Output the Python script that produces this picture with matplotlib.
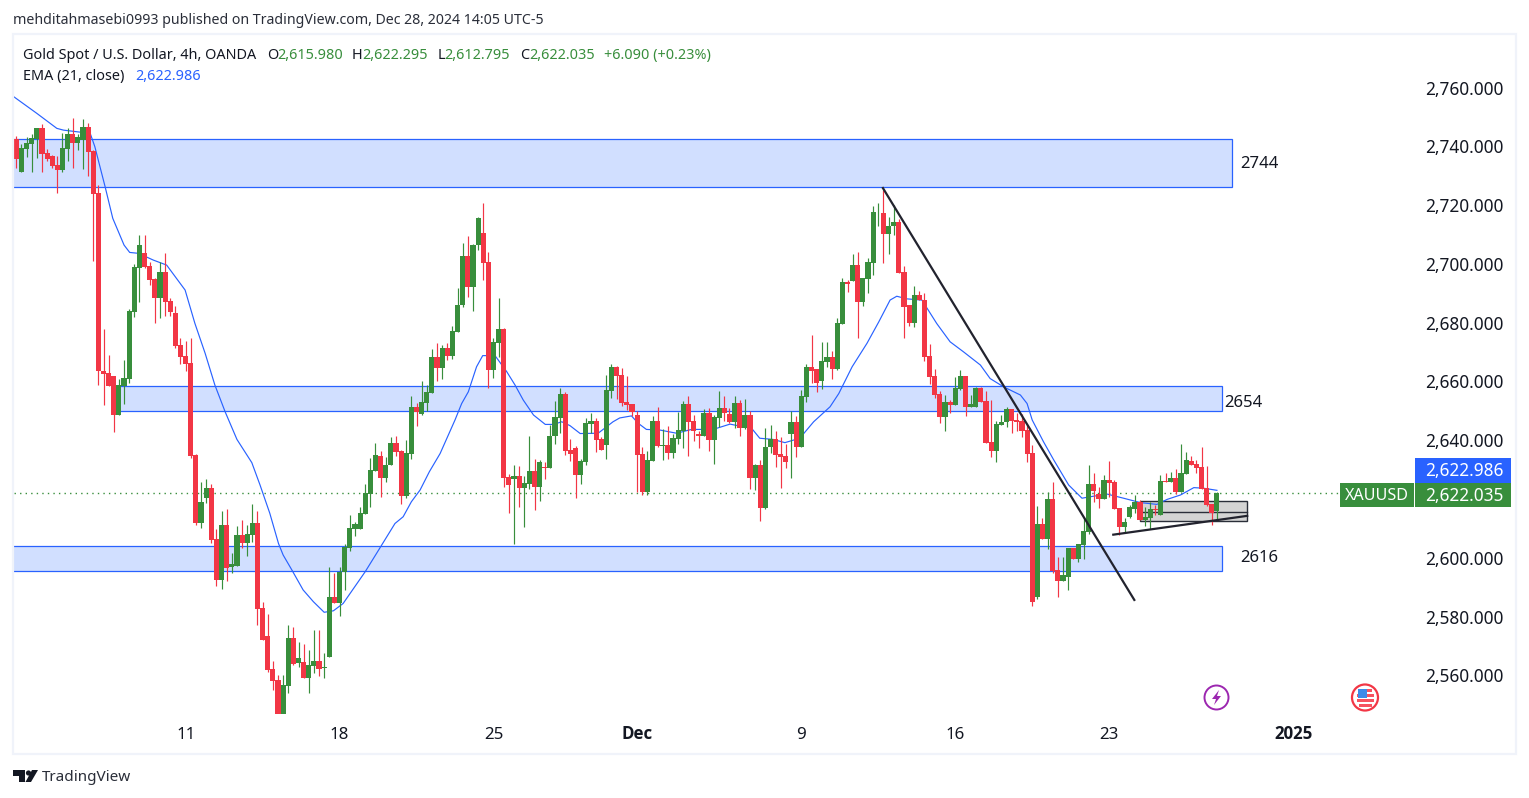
import matplotlib
matplotlib.use("Agg")
import numpy as np
import matplotlib.pyplot as plt
from matplotlib.patches import Rectangle, Circle, Polygon

plt.rcParams['font.family'] = ['Noto Sans', 'DejaVu Sans']

# candles, oldest first
opens = [2742.5,2731.4,2739.2,2740.9,2742.6,2746.2,2737.6,2736.7,2733.6,2732.1,2739.1,2744.2,2741.2,2742.1,2746.6,2738.4,2724.1,2663.6,2662.9,2661.9,
         2648.6,2658.6,2660.9,2683.6,2698.7,2703.7,2699.3,2694.9,2688.4,2697.2,2687.4,2683.3,2672.4,2668.7,2666.3,2635.0,2611.9,2620.4,2623.8,2606.4,
         2592.5,2611.2,2596.9,2597.2,2607.8,2605.1,2607.8,2611.9,2583.0,2573.4,2562.2,2558.5,2546.9,2556.4,2572.7,2564.2,2564.6,2559.1,2563.2,2564.9,
         2562.6,2566.3,2586.7,2584.6,2595.2,2603.4,2609.8,2609.8,2614.9,2621.7,2629.7,2634.6,2627.2,2631.6,2639.1,2636.3,2621.0,2635.3,2651.3,2649.0,
         2652.7,2656.1,2668.3,2664.6,2671.4,2668.7,2676.8,2686.0,2702.7,2692.1,2706.4,2710.5,2700.6,2663.9,2673.1,2677.9,2627.5,2626.8,2627.9,2623.8,
         2625.1,2629.6,2624.1,2630.9,2630.6,2641.5,2647.6,2655.7,2636.7,2637.4,2628.2,2632.6,2645.5,2646.6,2640.4,2638.4,2656.8,2664.9,2662.2,2653.0,
         2652.3,2648.6,2635.3,2622.4,2633.0,2646.6,2638.1,2638.4,2635.7,2640.4,2643.2,2652.3,2646.6,2642.1,2641.5,2649.3,2640.1,2647.6,2651.0,2648.9,
         2646.2,2652.7,2644.2,2648.6,2627.2,2631.6,2617.0,2637.7,2640.4,2635.3,2634.7,2642.1,2646.2,2637.7,2654.7,2664.9,2664.2,2660.2,2666.6,2668.3,
         2664.3,2679.6,2693.8,2694.2,2699.6,2687.0,2694.9,2700.3,2717.7,2717.3,2710.2,2712.9,2714.3,2697.2,2686.0,2679.9,2689.4,2687.7,2668.7,2661.9,
         2655.7,2647.9,2653.0,2652.0,2657.4,2661.9,2651.3,2651.3,2657.8,2653.4,2639.4,2636.4,2645.2,2646.2,2650.6,2646.9,2646.6,2643.5,2635.7,2586.7,
         2611.5,2606.4,2620.0,2595.9,2592.1,2593.5,2603.4,2599.6,2604.4,2608.8,2625.1,2621.7,2620.0,2626.5,2625.8,2617.0,2610.5,2613.9,2616.6,2619.0,
         2612.9,2613.6,2616.7,2614.6,2626.1,2625.8,2627.2,2622.4,2628.5,2633.0,2631.9,2630.9,2623.8,2618.3,2615.98]
highs = [2743.5,2740.8,2743.2,2744.2,2746.2,2747.6,2739.0,2737.0,2736.7,2744.5,2746.2,2749.6,2744.2,2749.3,2747.9,2738.7,2726.8,2677.9,2669.0,2661.9,
         2660.9,2667.3,2684.7,2700.0,2709.8,2709.8,2700.6,2695.2,2700.6,2703.7,2688.4,2685.7,2674.8,2673.8,2674.8,2635.3,2625.8,2626.8,2625.1,2609.8,
         2615.9,2616.6,2601.7,2610.8,2612.9,2611.2,2618.3,2615.9,2585.0,2580.9,2564.9,2560.2,2560.2,2577.2,2576.5,2571.4,2570.7,2568.7,2575.5,2575.5,
         2567.6,2596.9,2594.9,2596.9,2604.7,2614.6,2612.2,2617.3,2625.1,2634.0,2639.1,2636.3,2634.3,2641.1,2641.4,2636.7,2640.1,2655.1,2652.7,2660.2,
         2658.8,2671.1,2673.1,2672.4,2673.1,2678.9,2691.8,2707.1,2709.5,2706.8,2716.0,2720.7,2704.0,2674.8,2688.4,2678.2,2628.5,2631.6,2631.3,2627.9,
         2641.5,2633.6,2633.3,2632.6,2645.2,2653.4,2657.8,2656.4,2640.4,2638.1,2633.6,2647.6,2649.3,2647.6,2641.1,2662.2,2665.9,2665.3,2664.6,2661.9,
         2652.3,2650.0,2637.7,2636.4,2648.3,2651.3,2643.8,2644.9,2642.1,2649.6,2653.4,2655.1,2648.6,2643.2,2650.6,2651.0,2648.6,2656.8,2655.1,2651.0,
         2655.1,2653.7,2654.0,2650.0,2631.9,2633.3,2644.2,2645.2,2643.2,2641.1,2638.7,2650.0,2648.3,2657.1,2665.9,2675.8,2664.2,2673.4,2673.4,2670.4,
         2681.6,2695.2,2694.5,2703.4,2704.0,2695.2,2702.0,2719.7,2720.7,2725.1,2716.0,2720.0,2715.3,2699.3,2686.0,2692.5,2690.8,2690.1,2672.8,2664.3,
         2656.8,2655.4,2653.7,2661.5,2663.9,2661.9,2655.4,2658.1,2658.1,2656.8,2653.7,2646.6,2648.6,2651.3,2650.6,2649.3,2648.9,2645.2,2638.4,2617.6,
         2613.6,2622.4,2625.8,2600.3,2600.3,2603.4,2603.4,2604.7,2613.9,2631.6,2628.9,2624.1,2628.2,2633.0,2626.5,2617.0,2613.6,2618.0,2621.4,2619.7,
         2617.3,2619.0,2618.0,2628.2,2628.9,2629.2,2630.2,2638.7,2636.0,2634.6,2633.3,2637.7,2631.2,2618.3,2622.295]
lows = [2732.6,2731.4,2736.5,2731.4,2736.0,2731.4,2735.1,2732.6,2724.2,2731.4,2735.1,2732.6,2738.7,2732.3,2729.9,2701.0,2658.8,2652.0,2658.5,2642.8,
        2648.6,2652.3,2659.5,2681.9,2687.0,2698.6,2692.8,2679.9,2681.6,2682.3,2682.3,2671.4,2666.0,2663.6,2634.0,2611.2,2610.2,2618.7,2605.1,2590.4,
        2589.4,2592.1,2594.9,2597.2,2603.4,2600.6,2605.4,2577.2,2572.1,2561.2,2555.1,2546.9,2546.9,2554.0,2563.6,2562.9,2559.1,2554.0,2560.8,2559.8,
        2559.1,2566.3,2584.6,2580.2,2589.1,2602.3,2607.4,2609.8,2614.9,2617.3,2629.7,2620.7,2625.8,2631.6,2634.6,2618.3,2620.4,2633.6,2644.9,2648.6,
        2650.0,2656.1,2660.2,2660.9,2667.3,2667.7,2676.8,2685.3,2688.7,2684.0,2704.7,2694.5,2657.8,2661.2,2668.3,2624.1,2615.3,2604.7,2617.3,2610.5,
        2623.4,2616.3,2619.4,2626.8,2630.6,2638.7,2642.5,2635.0,2633.0,2620.4,2625.1,2631.6,2642.5,2636.0,2636.7,2633.6,2654.4,2654.0,2651.7,2650.3,
        2648.3,2622.4,2621.4,2621.4,2633.0,2637.7,2633.3,2633.6,2634.0,2638.7,2637.4,2634.7,2639.8,2637.4,2641.5,2636.4,2631.9,2644.5,2646.6,2645.9,
        2644.2,2641.5,2643.8,2623.4,2623.1,2612.6,2616.6,2635.7,2630.9,2623.8,2630.6,2627.2,2634.3,2637.7,2653.0,2659.5,2656.4,2657.4,2664.9,2660.8,
        2663.9,2679.6,2690.4,2694.2,2674.8,2685.7,2690.1,2696.2,2712.9,2700.3,2703.4,2709.8,2696.9,2674.8,2678.9,2678.5,2687.7,2667.0,2659.1,2654.4,
        2645.9,2643.2,2649.3,2652.0,2657.1,2648.3,2651.3,2651.3,2653.0,2639.1,2634.3,2632.6,2645.2,2644.5,2642.5,2643.2,2641.1,2632.6,2583.6,2586.0,
        2606.4,2603.0,2594.9,2586.7,2592.1,2589.1,2599.6,2598.6,2599.6,2608.1,2619.0,2617.0,2620.0,2620.7,2616.6,2607.8,2608.8,2613.6,2615.3,2612.9,
        2610.8,2609.8,2614.6,2614.6,2625.8,2625.8,2621.7,2622.4,2628.5,2631.6,2628.9,2623.4,2617.6,2611.2,2612.795]
closes = [2735.8,2739.4,2741.1,2742.8,2746.2,2737.5,2735.7,2733.3,2732.1,2739.4,2744.2,2741.2,2743.2,2746.6,2738.2,2723.9,2663.6,2662.7,2658.5,2648.6,
          2658.8,2661.2,2684.0,2699.0,2706.4,2699.0,2694.5,2688.4,2697.2,2687.0,2683.6,2672.1,2668.3,2666.0,2634.6,2611.9,2619.0,2623.8,2606.1,2592.5,
          2611.2,2596.6,2597.9,2607.8,2605.1,2608.1,2611.9,2582.6,2572.1,2561.9,2558.1,2546.9,2556.8,2572.7,2563.9,2565.9,2559.1,2563.6,2564.9,2562.2,
          2562.9,2586.7,2584.6,2595.2,2603.7,2610.2,2611.5,2615.3,2622.1,2629.9,2635.0,2627.2,2631.6,2639.1,2636.0,2621.0,2635.7,2651.3,2649.6,2653.0,
          2656.4,2668.3,2664.6,2671.4,2668.7,2677.2,2686.0,2702.7,2692.1,2706.4,2715.6,2700.3,2663.9,2673.4,2677.9,2627.2,2624.8,2627.9,2623.8,2625.5,
          2629.6,2624.1,2632.6,2630.7,2641.5,2647.9,2655.7,2636.4,2635.3,2628.2,2633.0,2645.9,2646.6,2640.1,2636.7,2657.1,2664.9,2661.9,2652.7,2652.0,
          2649.6,2635.0,2622.4,2633.3,2646.6,2638.1,2638.4,2635.7,2640.8,2643.5,2652.3,2646.2,2643.2,2641.5,2649.3,2640.1,2647.9,2651.0,2649.3,2646.2,
          2652.7,2644.2,2648.6,2627.2,2631.6,2617.0,2637.7,2640.4,2635.0,2634.3,2632.6,2646.2,2637.7,2655.1,2664.9,2663.6,2659.5,2667.0,2668.3,2664.3,
          2679.9,2693.8,2693.2,2699.6,2687.0,2695.2,2700.6,2717.7,2717.7,2710.2,2712.9,2714.3,2696.9,2685.3,2679.9,2689.4,2687.7,2668.3,2661.5,2655.4,
          2647.9,2653.0,2652.0,2657.8,2661.9,2651.3,2652.3,2657.8,2653.0,2639.1,2636.4,2645.5,2646.2,2650.6,2646.6,2646.2,2643.2,2635.3,2585.0,2611.5,
          2606.4,2620.0,2595.5,2592.1,2594.2,2603.4,2599.6,2604.7,2609.1,2625.1,2622.7,2620.0,2626.5,2625.5,2616.6,2610.5,2612.2,2617.3,2619.0,2612.9,
          2613.9,2616.6,2616.4,2626.1,2625.8,2627.2,2622.4,2628.9,2633.3,2631.6,2630.6,2623.4,2618.0,2615.3,2622.035]

# EMA (21, close) read at a sample of candles
ema_at = [-1,4,7.9,9.2,14.4,15.3,17.3,18.8,21,22.1,23.8,26.7,29.3,32.9,34.8,36.8,38.7,40.7,43,45.9,47.5,49.4,51.1,52,53.7,55.9,57.9,60,61.8,63.7,68,70.2,73.8,75.4,77,78.7,
          80.5,82.6,85.5,86.8,88.1,89.7,90.9,93.3,95.6,97.2,98.8,100.8,103.1,104.7,106.3,107.9,109.9,113.4,116.3,117.6,119.9,121.2,122.8,125.4,128.7,131.6,135.8,139.1,141.7,143.3,
          144.9,147.5,149.8,152.7,155.4,158.6,160.3,162.9,165.8,168.1,170.3,171.6,173.6,176.5,179.4,182,184.6,187.9,189.8,192.4,195.7,197,198,200.2,202.2,205.1,207.7,209.3,212.6,
          215.8,219.1,222.3,224.3,226.9,229.5,231.4,234]
ema_val = [2757.5,2751.2,2746.1,2745.5,2744.4,2739.9,2726.3,2715.5,2706.4,2703.9,2703.6,2701.3,2699.6,2691.1,2679.8,2669.6,2658.8,2649.7,2640.3,2632.4,2624.8,2615.2,2604.9,2601.0,2595.9,2589.1,2585.1,2581.5,2582.0,2584.5,2595.3,2601.5,2611.7,2614.0,2619.1,2623.1,
           2629.3,2635.5,2646.9,2652.5,2656.5,2665.0,2668.8,2668.8,2663.3,2658.8,2653.7,2648.6,2645.4,2645.4,2646.3,2645.0,2642.3,2642.4,2646.3,2647.6,2648.3,2645.8,2643.7,2643.5,2642.4,2643.7,2643.7,2645.5,2644.6,2644.1,
           2640.7,2640.3,2639.2,2640.7,2646.3,2651.4,2655.9,2665.0,2673.0,2680.3,2687.7,2689.0,2688.1,2687.7,2679.7,2673.5,2670.1,2665.6,2661.0,2658.2,2655.4,2652.5,2646.9,2639.5,2633.3,2624.8,2620.3,2620.8,2621.7,
           2620.3,2618.8,2618.2,2619.9,2621.4,2623.9,2623.7,2622.986]

# 2,620 sits behind the last-price badge and is not shown
price_ticks = [2560,2580,2600,2640,2660,2680,2700,2720,2740,2760]
date_ticks = [33,63,93,121,153,183,213,249]
date_labels = ["11","18","25","Dec","9","16","23","2025"]

# zones: first candle, last candle, low, high
zone_left = [-1,19.2,-1]
zone_right = [237,235,235]
zone_low = [2726.3,2650.1,2595.7]
zone_high = [2742.5,2658.5,2604.2]

RED = "#F23645"
GREEN = "#388E3C"
BLUE = "#2962FF"
INK = "#131722"
W, H = 1529, 798

fig = plt.figure(figsize=(W/100, H/100), dpi=100, facecolor="white")
ax = fig.add_axes([14/W, 1-714/H, (1416-14)/W, (714-35)/H])
ax.set_xlim(-0.45, 272.8)
ax.set_ylim(2546.9, 2777.86)
for s in ax.spines.values():
    s.set_visible(False)

for l, r, lo, hi in zip(zone_left, zone_right, zone_low, zone_high):
    ax.add_patch(Rectangle((l, lo), r-l, hi-lo, fc="#D1DFFF", ec=BLUE, lw=0.9, zorder=1))

# grey consolidation box
ax.add_patch(Rectangle((219, 2612.5), 20.9, 6.85, fc="#D4D4D4", ec="#2A2E39", lw=1.0, zorder=1.2))
ax.plot([219, 239.9], [2615.7, 2615.7], color="#2A2E39", lw=1.0, zorder=1.3)

ax.axhline(closes[-1], xmax=(1340-14)/(1416-14), color=GREEN, lw=1, ls=(0, (1, 3)), zorder=1.5)
ax.plot(ema_at, ema_val, color=BLUE, lw=0.85, zorder=2)

idx = np.arange(len(opens))
o, h, l, c = map(np.array, (opens, highs, lows, closes))
up = c >= o
cols = np.where(up, GREEN, RED)
ax.vlines(idx, l, h, colors=cols, lw=0.85, zorder=3)
ax.bar(idx, np.abs(c-o), bottom=np.minimum(o, c), width=1.0, color=cols, lw=0, zorder=3.1)

# trend lines
ax.plot([168.9, 217.9], [2725.8, 2585.7], color="#22232E", lw=1.6, zorder=4)
ax.plot([213.8, 239.9], [2607.9, 2614.3], color="#22232E", lw=1.6, zorder=4)

ax.yaxis.tick_right()
ax.set_yticks(price_ticks)
ax.set_yticklabels([f"{v:,.3f}" for v in price_ticks], fontsize=12.4, color=INK)
ax.tick_params(axis="y", length=0, pad=6.5)
ax.set_xticks(date_ticks)
ax.set_xticklabels(date_labels, fontsize=12.2, color=INK)
ax.tick_params(axis="x", length=0, pad=9.5)
for tick, name in zip(ax.xaxis.get_major_ticks(), date_labels):
    if name in ("Dec", "2025"):
        tick.label1.set_family("Open Sans")
        tick.label1.set_fontweight("bold")
        tick.set_pad(8)

# pixel overlay for frame, headers and badges
ov = fig.add_axes([0, 0, 1, 1], zorder=5)
ov.set_xlim(0, W)
ov.set_ylim(H, 0)
ov.axis("off")
ov.add_patch(Rectangle((13, 34), 1503, 719.5, fc="none", ec="#F0F3FA", lw=1.6))

ov.text(13, 20.5, "mehditahmasebi0993 published on TradingView.com, Dec 28, 2024 14:05 UTC-5",
        fontsize=10.2, color="#2A2E39", va="center")

legend_x = [23, 267.5, 277, 352, 362.6, 437.7, 444.5, 520, 529, 604.5]
legend_s = ["Gold Spot / U.S. Dollar, 4h, OANDA", "O", "2,615.980", "H", "2,622.295", "L", "2,612.795", "C", "2,622.035", "+6.090 (+0.23%)"]
legend_c = [INK, INK, GREEN, INK, GREEN, INK, GREEN, INK, GREEN, GREEN]
for tx, s, col in zip(legend_x, legend_s, legend_c):
    ov.text(tx, 55.5, s, fontsize=10.4, color=col, va="center")
ov.text(23, 76.5, "EMA (21, close)", fontsize=10.4, color=INK, va="center")
ov.text(135, 76.5, "2,622.986", fontsize=10.4, color=BLUE, va="center")

for tx, ty, s in [(1240, 164, "2744"), (1224, 403, "2654"), (1240, 558, "2616")]:
    ov.text(tx, ty, s, fontsize=12, color=INK, va="center")

# price badges
ov.add_patch(Rectangle((1415, 458), 96, 24.5, fc=BLUE, ec="none"))
ov.text(1504, 471.5, "2,622.986", fontsize=12.4, color="white", va="center", ha="right")
ov.add_patch(Rectangle((1415, 482.5), 96, 24.5, fc=GREEN, ec="none"))
ov.text(1504, 496, "2,622.035", fontsize=12.4, color="white", va="center", ha="right")
ov.add_patch(Rectangle((1340, 482.5), 74, 24.5, fc=GREEN, ec="none"))
ov.text(1377, 496, "XAUUSD", fontsize=11.6, color="white", va="center", ha="center")

# event icons
ov.add_patch(Circle((1216.5, 697.5), 12, fc="white", ec="#9C27B0", lw=1.4))
ov.add_patch(Polygon([(1219, 690), (1212, 699), (1216, 699), (1214, 705), (1221, 696), (1217, 696)], fc="#9C27B0", ec="none"))
ov.add_patch(Circle((1365, 697.5), 13, fc="white", ec="#F23645", lw=1.6))
ov.add_patch(Rectangle((1356.5, 694), 17, 2.8, fc="#F7525F", ec="none"))
ov.add_patch(Rectangle((1356.5, 699), 17, 2.8, fc="#F7525F", ec="none"))
ov.add_patch(Rectangle((1358.5, 704), 13, 2.8, fc="#F7525F", ec="none"))
ov.add_patch(Rectangle((1358, 688.5), 9, 9, fc="#3D8BE8", ec="none"))
ov.add_patch(Rectangle((1367, 689), 5, 2.5, fc="#F7525F", ec="none"))

# logo
ov.add_patch(Polygon([(13, 770), (25, 770), (25, 782), (19, 782), (19, 776), (13, 776)], fc=INK, ec="none"))
ov.add_patch(Circle((28.5, 773), 2.6, fc=INK, ec="none"))
ov.add_patch(Polygon([(32, 770), (38, 770), (31, 782), (25.5, 782)], fc=INK, ec="none"))
ov.text(42, 777.5, "TradingView", fontsize=11, color="#2A2E39", va="center")

fig.savefig("out.png", dpi=100)
